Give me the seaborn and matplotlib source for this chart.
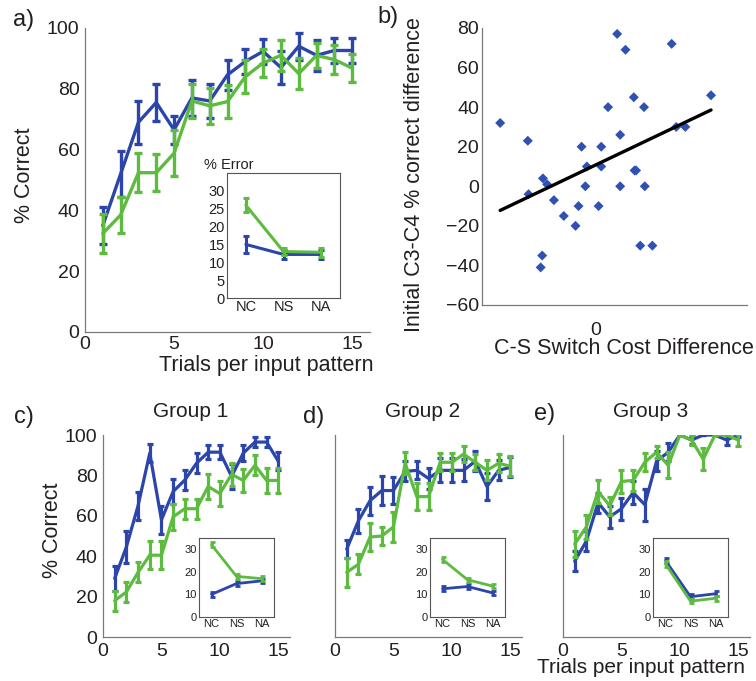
import numpy as np
import pandas as pd
import matplotlib
matplotlib.use("Agg")
import matplotlib.pyplot as plt
import seaborn as sns

# -- data --
trials = [1, 2, 3, 4, 5, 6, 7, 8, 9, 10, 11, 12, 13, 14, 15]
conds = ["NC", "NS", "NA"]

a_blue = [35, 52, 69, 75.5, 66.5, 77, 76, 84.6, 89, 92.3, 87, 94, 91, 92.6, 92.6]
a_blue_err = [6, 7.5, 7, 6, 4.5, 6, 5.5, 5, 4, 4, 5.5, 4.5, 5, 4, 4]
a_green = [32.4, 38.5, 52.4, 52.4, 58.8, 76, 74.4, 75.8, 84, 88.5, 91, 85, 91, 89.6, 86.8]
a_green_err = [6.5, 6, 6.5, 6, 7.5, 5.5, 6, 5.5, 5.5, 4.5, 5, 5, 4, 4.7, 4.5]
a_err_blue = [15, 12.2, 12.2]
a_err_blue_sd = [2.3, 1.2, 1.2]
a_err_green = [26, 13, 12.8]
a_err_green_sd = [2, 1, 1.2]

c_blue = [29, 44.6, 65, 91, 58, 72, 77.7, 86, 91.5, 91.5, 79.5, 91, 96.5, 96.5, 87]
c_blue_err = [6, 8, 7, 4.5, 7, 6, 5, 5, 3.5, 3.5, 6, 4, 2.5, 2.5, 4.5]
c_green = [18, 22.3, 32, 40.5, 40.5, 59.5, 63.5, 63.5, 74.5, 71, 80.5, 77.5, 85, 77.5, 77.5]
c_green_err = [5, 5, 5, 7, 7, 6.5, 5, 5, 6, 6, 5.5, 5.5, 5, 6, 6]
c_err_blue = [10, 14.8, 16]
c_err_green = [32, 18, 17]

d_blue = [43.5, 57.5, 67.5, 72.5, 72.5, 82, 82.5, 78.5, 82.5, 82.5, 82.5, 87, 74.5, 82.5, 84]
d_blue_err = [4.5, 6, 7, 7, 6.5, 5, 4.5, 5, 6, 6, 5.5, 5, 6.5, 5, 5]
d_green = [32, 36, 49.5, 50, 54.5, 86, 69.5, 69.5, 86.5, 86.5, 90.5, 86.5, 82.5, 86, 84.5]
d_green_err = [7, 5, 7, 4.5, 7.5, 5.5, 6.5, 6.5, 4.5, 4.5, 4, 4, 5, 4.5, 5]
d_err_blue = [12.5, 13.5, 10.7]
d_err_green = [25.5, 16.5, 13.7]

e_blue = [37.5, 47.5, 66.5, 59.5, 63.5, 71.5, 65.5, 87, 91.5, 100, 97.5, 100, 100, 97.5, 100]
e_blue_err = [5, 5, 5, 5.5, 5.5, 5.5, 8, 5, 4.5, 0, 2, 0, 0, 2.5, 1]
e_green = [46, 54.5, 72, 65, 77, 77.5, 86.5, 91.5, 85, 100, 97.5, 88, 100, 100, 97.5]
e_green_err = [6.5, 6, 5.5, 4.5, 5.5, 5, 4.5, 3, 6.5, 0, 2.5, 5.5, 0, 0, 3]
e_err_blue = [25, 9, 10.3]
e_err_green = [23.5, 7, 8.3]
small_err = [1.2, 1, 1]

b_x = [-2.52, -1.79, -1.77, -1.39, -1.28, -1.41, -1.45, -1.10, -0.84, -0.53, -0.45,
       -0.37, -0.23, -0.27, 0.08, 0.15, 0.15, 0.33, 0.57, 0.65, 0.65, 0.79, 1.01,
       1.03, 1.07, 1.18, 1.28, 1.30, 1.50, 2.01, 2.13, 2.37, 3.05]
b_y = [32, 23, -4, 4, 1, -35, -41, -7, -15, -20, -10, 20, 10, 0, -10, 20, 10, 40,
       77, 26, 0, 69, 45, 8, 8, -30, 40, 0, -30, 72, 30, 30, 46]

BLUE = "#2b45aa"
GREEN = "#5dbb3f"
SPINE = "#7a7a7a"
TXT = "#231f20"

sns.set_theme(style="white")
plt.rcParams["font.family"] = ["Liberation Sans", "DejaVu Sans"]
plt.rcParams["text.color"] = TXT
plt.rcParams["axes.labelcolor"] = TXT
plt.rcParams["xtick.color"] = TXT
plt.rcParams["ytick.color"] = TXT


def draw_curves(ax, x, blue, blue_err, green, green_err, lw=2.2, cap=2.5):
    for y, err, col in [(blue, blue_err, BLUE), (green, green_err, GREEN)]:
        sns.lineplot(x=x, y=y, color=col, lw=lw, ax=ax, legend=False)
        ax.errorbar(x, y, yerr=err, fmt="none", ecolor=col, elinewidth=lw,
                    capsize=cap, capthick=lw)


def style_main(ax, ticksize=14):
    for s in ["top", "right"]:
        ax.spines[s].set_visible(False)
    for s in ["left", "bottom"]:
        ax.spines[s].set_color(SPINE)
        ax.spines[s].set_linewidth(0.9)
    ax.tick_params(direction="in", length=3, width=0.8, colors=SPINE,
                   labelcolor=TXT, labelsize=ticksize, pad=2)


def style_inset(ax, yticks, fs):
    for s in ax.spines.values():
        s.set_color("#555555")
        s.set_linewidth(0.8)
    ax.set_xlim(0.5, 3.5)
    ax.set_ylim(0, 35)
    ax.set_xticks([1, 2, 3])
    ax.set_xticklabels(conds)
    ax.set_yticks(yticks)
    ax.tick_params(direction="in", length=2, width=0.6, colors="#555555",
                   labelcolor=TXT, labelsize=fs, pad=1.5)
    ax.set_xlabel("")
    ax.set_ylabel("")


W, H = 756, 681
fig = plt.figure(figsize=(W / 100, H / 100), dpi=100)


def px_axes(left, top, right, bottom):
    return fig.add_axes([left / W, 1 - bottom / H, (right - left) / W, (bottom - top) / H])


# -- a) overall learning curves --
ax_a = px_axes(85, 28, 370, 332)
draw_curves(ax_a, trials, a_blue, a_blue_err, a_green, a_green_err, lw=2.4, cap=3)
ax_a.set_xlim(0, 16)
ax_a.set_ylim(0, 100)
ax_a.set_xticks([0, 5, 10, 15])
ax_a.set_yticks([0, 20, 40, 60, 80, 100])
style_main(ax_a)
ax_a.tick_params(axis="y", pad=4)
ax_a.tick_params(axis="x", pad=3)
ax_a.set_ylabel("% Correct", fontsize=15.5)
ax_a.yaxis.set_label_coords(-0.175, 0.516)
ax_a.set_xlabel("Trials per input pattern", fontsize=15.5)
ax_a.xaxis.set_label_coords(0.635, -0.075)

ins_a = px_axes(227, 173, 340, 298)
draw_curves(ins_a, [1, 2, 3], a_err_blue, a_err_blue_sd, a_err_green, a_err_green_sd,
            lw=2.2, cap=2)
style_inset(ins_a, [0, 5, 10, 15, 20, 25, 30], 10.5)
ins_a.text(-0.2, 1.065, "% Error", transform=ins_a.transAxes, fontsize=10.5,
           ha="left", va="center")

# -- b) correlation scatter --
ax_b = px_axes(482, 28, 747, 305)
sns.regplot(x=b_x, y=b_y, ci=None, ax=ax_b, marker="D", truncate=True,
            scatter_kws={"s": 26, "color": "#2f52b2", "edgecolor": "none", "alpha": 1},
            line_kws={"color": "black", "lw": 2.4})
ax_b.set_xlim(-3, 4)
ax_b.set_ylim(-60, 80)
ax_b.set_xticks([-3, -2, -1, 0, 1, 2, 3, 4])
ax_b.set_xticklabels(["", "", "", "0", "", "", "", ""])
ax_b.set_yticks([-60, -40, -20, 0, 20, 40, 60, 80])
style_main(ax_b)
ax_b.tick_params(axis="x", pad=12)
ax_b.set_ylabel("Initial C3-C4 % correct difference", fontsize=15.5)
ax_b.yaxis.set_label_coords(-0.215, 0.47)
ax_b.set_xlabel("C-S Switch Cost Difference", fontsize=15.5)
ax_b.xaxis.set_label_coords(0.536, -0.119)

# -- c), d), e) group curves --
groups = [
    ("Group 1", 103, c_blue, c_blue_err, c_green, c_green_err, c_err_blue, c_err_green, 199),
    ("Group 2", 335, d_blue, d_blue_err, d_green, d_green_err, d_err_blue, d_err_green, 430),
    ("Group 3", 563, e_blue, e_blue_err, e_green, e_green_err, e_err_blue, e_err_green, 653),
]
for i, (title, left, gb, gbe, gg, gge, ib, ig, ileft) in enumerate(groups):
    ax = px_axes(left, 435, left + 187, 637)
    draw_curves(ax, trials, gb, gbe, gg, gge, lw=2.3, cap=2.5)
    ax.set_xlim(0, 16)
    ax.set_ylim(0, 100)
    ax.set_xticks([0, 5, 10, 15])
    ax.set_yticks([0, 20, 40, 60, 80, 100])
    style_main(ax)
    ax.tick_params(axis="x", pad=4)
    ax.tick_params(axis="y", pad=4)
    ax.set_title(title, fontsize=15, pad=13, x=0.47)
    if i == 0:
        ax.set_ylabel("% Correct", fontsize=15.5)
        ax.yaxis.set_label_coords(-0.214, 0.53)
    else:
        ax.set_yticklabels([])
        ax.set_ylabel("")
    if i == 2:
        ax.set_xlabel("Trials per input pattern", fontsize=15)
        ax.xaxis.set_label_coords(0.417, -0.105)
    else:
        ax.set_xlabel("")

    ins = px_axes(ileft, 538, ileft + 75, 617)
    draw_curves(ins, [1, 2, 3], ib, small_err, ig, small_err, lw=2, cap=1.8)
    style_inset(ins, [0, 10, 20, 30], 8)

# panel letters
for letter, x, y in [("a)", 24, 20), ("b)", 388, 17), ("c)", 24, 417),
                     ("d)", 314, 417), ("e)", 545, 414)]:
    fig.text(x / W, 1 - y / H, letter, fontsize=17, ha="center", va="center")

fig.savefig("out.png", dpi=100)
print("saved: out.png")
